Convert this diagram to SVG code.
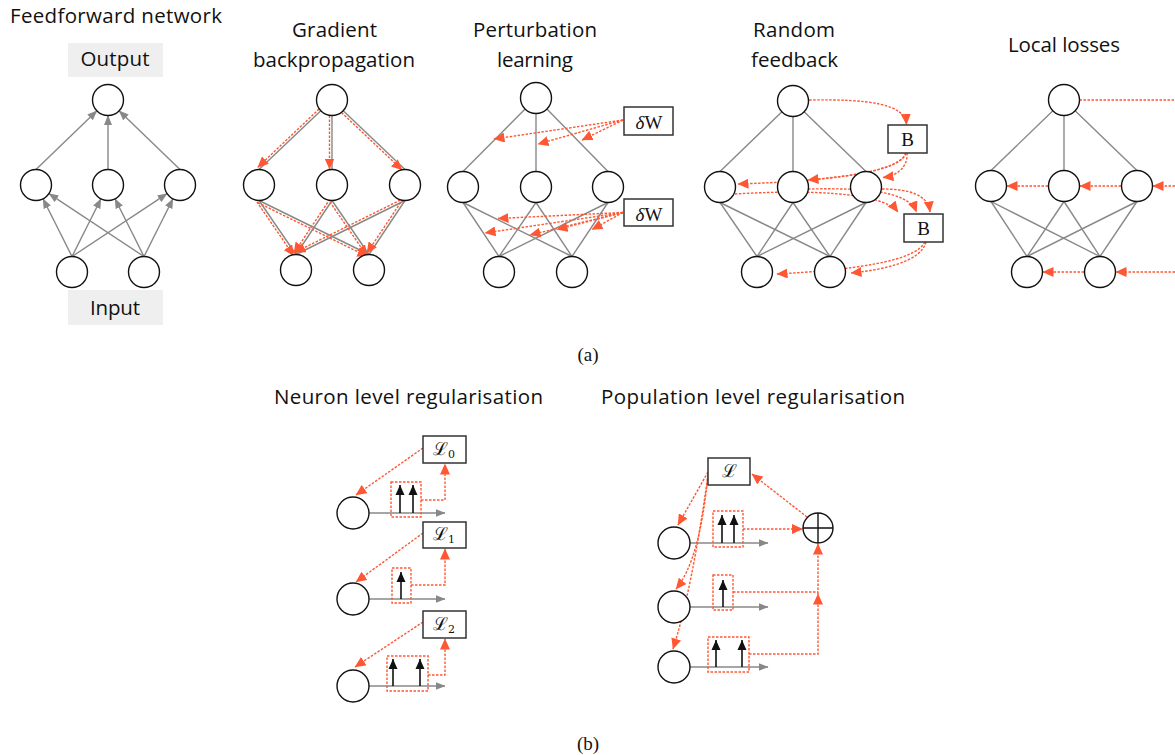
<svg xmlns="http://www.w3.org/2000/svg" width="1175" height="755" viewBox="0 0 1175 755">
<style>
.t{font-family:"Open Sans","Liberation Sans",sans-serif;font-size:20.5px;fill:#111}
.n{fill:#fff;stroke:#111;stroke-width:1.4}
.g{stroke:#888;stroke-width:1.4;fill:none}
.r{stroke:#FF5733;stroke-width:1.4;stroke-dasharray:2.5 1.5;fill:none}
.k{stroke:#111;stroke-width:1.6;fill:none}
.box{fill:#fff;stroke:#333;stroke-width:1.5}
.lab{font-family:"Liberation Serif","DejaVu Serif",serif;font-size:19px;fill:#111}
.cal{font-family:"DejaVu Serif","Liberation Serif",serif;font-size:18px;fill:#111}
.shade{fill:#efefef}
</style>
<defs>
<marker id="ag" markerUnits="userSpaceOnUse" markerWidth="10" markerHeight="8" refX="9.5" refY="4" orient="auto"><path d="M0,0L10,4L0,8z" fill="#888"/></marker>
<marker id="ar" markerUnits="userSpaceOnUse" markerWidth="11" markerHeight="10" refX="10.5" refY="5" orient="auto"><path d="M0,0L11,5L0,10z" fill="#FF5733"/></marker>
<marker id="ab" markerUnits="userSpaceOnUse" markerWidth="10" markerHeight="10" refX="10" refY="5" orient="auto"><path d="M0,0.5L10,5L0,9.5z" fill="#111"/></marker>
</defs>
<rect width="1175" height="755" fill="#fff"/>

<!-- titles -->
<g id="titles">
<text class="t" x="116" y="23" text-anchor="middle" textLength="212">Feedforward network</text>
<text class="t" x="334.5" y="37" text-anchor="middle" textLength="85">Gradient</text>
<text class="t" x="334" y="67" text-anchor="middle" textLength="162">backpropagation</text>
<text class="t" x="535" y="37" text-anchor="middle" textLength="124">Perturbation</text>
<text class="t" x="535" y="67" text-anchor="middle" textLength="76">learning</text>
<text class="t" x="794" y="37" text-anchor="middle" textLength="82">Random</text>
<text class="t" x="794.5" y="67" text-anchor="middle" textLength="87">feedback</text>
<text class="t" x="1064" y="52" text-anchor="middle" textLength="112">Local losses</text>
<text class="lab" x="588" y="361" text-anchor="middle">(a)</text>
<text class="t" x="408.5" y="404" text-anchor="middle" textLength="269">Neuron level regularisation</text>
<text class="t" x="753" y="404" text-anchor="middle" textLength="304">Population level regularisation</text>
<text class="lab" x="588" y="750" text-anchor="middle">(b)</text>
</g>

<g id="ff-output-label"><rect class="shade" x="68" y="43" width="95" height="34"/><text class="t" x="115" y="66" text-anchor="middle" textLength="69">Output</text></g>
<g id="ff-input-label"><rect class="shade" x="68" y="290" width="95" height="35"/><text class="t" x="115" y="315" text-anchor="middle" textLength="50">Input</text></g>

<!-- connectors -->
<g id="connectors">
<!-- feedforward -->
<g marker-end="url(#ag)" class="g">
<line x1="36" y1="169.5" x2="96.9" y2="110.8"/>
<line x1="108" y1="169.5" x2="108" y2="115.5"/>
<line x1="180" y1="169.5" x2="119.1" y2="110.8"/>
<line x1="72" y1="256.5" x2="43" y2="198.8"/>
<line x1="72" y1="256.5" x2="101" y2="198.8"/>
<line x1="72" y1="256.5" x2="167.1" y2="193.6"/>
<line x1="144" y1="256.5" x2="48.9" y2="193.6"/>
<line x1="144" y1="256.5" x2="115" y2="198.8"/>
<line x1="144" y1="256.5" x2="173" y2="198.8"/>
</g>
<!-- gradient backprop -->
<g class="g">
<line x1="259" y1="169.5" x2="320.8" y2="110.7"/>
<line x1="332" y1="169.5" x2="332" y2="115.5"/>
<line x1="405" y1="169.5" x2="343.2" y2="110.7"/>
<line x1="259" y1="200.5" x2="296" y2="254.5"/>
<line x1="259" y1="200.5" x2="369" y2="254.5"/>
<line x1="332" y1="200.5" x2="296" y2="254.5"/>
<line x1="332" y1="200.5" x2="369" y2="254.5"/>
<line x1="405" y1="200.5" x2="296" y2="254.5"/>
<line x1="405" y1="200.5" x2="369" y2="254.5"/>
</g>
<g class="r" marker-end="url(#ar)">
<line x1="319.1" y1="108.9" x2="257.8" y2="167.3"/>
<line x1="329.5" y1="115.5" x2="329.5" y2="169"/>
<line x1="341.5" y1="112.5" x2="402" y2="170"/>
<line x1="256.9" y1="201.9" x2="293.9" y2="255.9"/>
<line x1="257.9" y1="202.7" x2="367.9" y2="256.7"/>
<line x1="329.9" y1="199.1" x2="293.9" y2="253.1"/>
<line x1="329.9" y1="201.9" x2="366.9" y2="255.9"/>
<line x1="403.9" y1="198.3" x2="294.9" y2="252.3"/>
<line x1="402.9" y1="199.1" x2="366.9" y2="253.1"/>
</g>
<!-- perturbation -->
<g class="g">
<line x1="463" y1="171.5" x2="525.1" y2="109"/>
<line x1="536" y1="171.5" x2="536" y2="113.5"/>
<line x1="608" y1="171.5" x2="546.9" y2="109.1"/>
<line x1="463" y1="202.5" x2="499" y2="256.5"/>
<line x1="463" y1="202.5" x2="572" y2="256.5"/>
<line x1="536" y1="202.5" x2="499" y2="256.5"/>
<line x1="536" y1="202.5" x2="572" y2="256.5"/>
<line x1="608" y1="202.5" x2="499" y2="256.5"/>
<line x1="608" y1="202.5" x2="572" y2="256.5"/>
</g>
<g class="r" marker-end="url(#ar)">
<line x1="623" y1="120" x2="494" y2="139"/>
<line x1="623" y1="120" x2="538" y2="144"/>
<line x1="623" y1="120" x2="582" y2="140"/>
<line x1="623" y1="212.5" x2="498" y2="218.5"/>
<line x1="623" y1="212.5" x2="485" y2="233"/>
<line x1="623" y1="212.5" x2="530" y2="235"/>
<line x1="623" y1="212.5" x2="557" y2="229.5"/>
<line x1="623" y1="212.5" x2="592" y2="229.5"/>
</g>
<!-- random feedback -->
<g class="g">
<line x1="720" y1="171.5" x2="781.9" y2="111.8"/>
<line x1="793" y1="171.5" x2="793" y2="116.5"/>
<line x1="866" y1="171.5" x2="804.1" y2="111.8"/>
<line x1="720" y1="202.5" x2="757" y2="256.5"/>
<line x1="720" y1="202.5" x2="830" y2="256.5"/>
<line x1="793" y1="202.5" x2="757" y2="256.5"/>
<line x1="793" y1="202.5" x2="830" y2="256.5"/>
<line x1="866" y1="202.5" x2="757" y2="256.5"/>
<line x1="866" y1="202.5" x2="830" y2="256.5"/>
</g>
<g class="r" marker-end="url(#ar)">
<path d="M809,100 C870,99 905,104 906.5,124.5"/>
<path d="M906,153 C900,176 800,182 738,184"/>
<path d="M906,153 C899,170 852,176 808,180"/>
<path d="M907,153 C908,168 896,176 883,177.5"/>
<path d="M735,194 C800,190 882,191 898,212"/>
<path d="M808,189 C860,188 908,190 916.5,212"/>
<path d="M882,189 C910,189 928,195 930,212"/>
<path d="M925,242 C915,262 850,270 777,274"/>
<path d="M926,242 C921,262 882,270 851,273"/>
</g>
<!-- local losses -->
<g class="g">
<line x1="991" y1="170.5" x2="1052.9" y2="110.8"/>
<line x1="1064" y1="170.5" x2="1064" y2="115.5"/>
<line x1="1137" y1="170.5" x2="1075.1" y2="110.8"/>
<line x1="991" y1="201.5" x2="1027" y2="256.5"/>
<line x1="991" y1="201.5" x2="1100" y2="256.5"/>
<line x1="1064" y1="201.5" x2="1027" y2="256.5"/>
<line x1="1064" y1="201.5" x2="1100" y2="256.5"/>
<line x1="1137" y1="201.5" x2="1027" y2="256.5"/>
<line x1="1137" y1="201.5" x2="1100" y2="256.5"/>
</g>
<line class="r" x1="1079.5" y1="100" x2="1175" y2="100"/>
<g class="r" marker-end="url(#ar)">
<line x1="1175" y1="186" x2="1153" y2="186"/>
<line x1="1121" y1="186" x2="1080" y2="186"/>
<line x1="1048" y1="186" x2="1007" y2="186"/>
<line x1="1175" y1="272" x2="1116" y2="272"/>
<line x1="1084" y1="272" x2="1043" y2="272"/>
</g>

<!-- neuron level -->
<g class="g" marker-end="url(#ag)">
<line x1="369" y1="513" x2="445" y2="513"/>
<line x1="369" y1="599" x2="445" y2="599"/>
<line x1="369" y1="686" x2="445" y2="686"/>
</g>
<g class="k" marker-end="url(#ab)">
<line x1="400" y1="513" x2="400" y2="485"/>
<line x1="413" y1="513" x2="413" y2="485"/>
<line x1="401" y1="599" x2="401" y2="572"/>
<line x1="393" y1="686" x2="393" y2="659"/>
<line x1="420" y1="686" x2="420" y2="659"/>
</g>
<g class="r">
<rect x="391" y="482" width="30" height="35"/>
<rect x="392" y="568" width="19" height="35"/>
<rect x="387" y="656" width="41" height="35"/>
</g>
<g class="r" marker-end="url(#ar)">
<path d="M421,500 L445,500 L445,464"/>
<path d="M423,448 L356,495"/>
<path d="M411,585 L445,585 L445,549"/>
<path d="M423,533 L356,582"/>
<path d="M428,675 L445,675 L445,639"/>
<path d="M423,622 L355,667"/>
</g>

<!-- population level -->
<g class="g" marker-end="url(#ag)">
<line x1="690" y1="543" x2="768" y2="543"/>
<line x1="690" y1="607" x2="768" y2="607"/>
<line x1="690" y1="667" x2="768" y2="667"/>
</g>
<g class="k" marker-end="url(#ab)">
<line x1="722" y1="543" x2="722" y2="515"/>
<line x1="734" y1="543" x2="734" y2="515"/>
<line x1="723" y1="607" x2="723" y2="580"/>
<line x1="716" y1="667" x2="716" y2="640"/>
<line x1="742" y1="667" x2="742" y2="640"/>
</g>
<g class="r">
<rect x="713" y="511" width="30" height="36"/>
<rect x="713" y="575" width="20" height="35"/>
<rect x="708" y="637" width="41" height="35"/>
<path d="M733,592 L818,592"/>
</g>
<g class="r" marker-end="url(#ar)">
<path d="M743,529 L802.5,529"/>
<path d="M749,654 L818,654 L818,594"/>
<path d="M818,594 L818,544"/>
<path d="M807,517 L752,474"/>
<path d="M708,472 L678,525"/>
<path d="M708,474 Q700,560 676,589"/>
<path d="M708,475 Q692,590 673,649"/>
</g>
</g>

<!-- nodes: feedforward -->
<g id="ff-out"><circle class="n" cx="108" cy="100" r="15.5"/></g>
<g id="ff-h1"><circle class="n" cx="36" cy="185" r="15.5"/></g>
<g id="ff-h2"><circle class="n" cx="108" cy="185" r="15.5"/></g>
<g id="ff-h3"><circle class="n" cx="180" cy="185" r="15.5"/></g>
<g id="ff-i1"><circle class="n" cx="72" cy="272" r="15.5"/></g>
<g id="ff-i2"><circle class="n" cx="144" cy="272" r="15.5"/></g>
<!-- gradient -->
<g id="gb-out"><circle class="n" cx="332" cy="100" r="15.5"/></g>
<g id="gb-h1"><circle class="n" cx="259" cy="185" r="15.5"/></g>
<g id="gb-h2"><circle class="n" cx="332" cy="185" r="15.5"/></g>
<g id="gb-h3"><circle class="n" cx="405" cy="185" r="15.5"/></g>
<g id="gb-i1"><circle class="n" cx="296" cy="270" r="15.5"/></g>
<g id="gb-i2"><circle class="n" cx="369" cy="270" r="15.5"/></g>
<!-- perturbation -->
<g id="pl-out"><circle class="n" cx="536" cy="98" r="15.5"/></g>
<g id="pl-h1"><circle class="n" cx="463" cy="187" r="15.5"/></g>
<g id="pl-h2"><circle class="n" cx="536" cy="187" r="15.5"/></g>
<g id="pl-h3"><circle class="n" cx="608" cy="187" r="15.5"/></g>
<g id="pl-i1"><circle class="n" cx="499" cy="272" r="15.5"/></g>
<g id="pl-i2"><circle class="n" cx="572" cy="272" r="15.5"/></g>
<g id="pl-dw1"><rect class="box" x="624" y="107" width="49" height="28"/><text class="lab" x="649" y="129" text-anchor="middle"><tspan font-style="italic">δ</tspan>W</text></g>
<g id="pl-dw2"><rect class="box" x="624" y="199" width="49" height="27"/><text class="lab" x="649" y="221" text-anchor="middle"><tspan font-style="italic">δ</tspan>W</text></g>
<!-- random feedback -->
<g id="rf-out"><circle class="n" cx="793" cy="101" r="15.5"/></g>
<g id="rf-h1"><circle class="n" cx="720" cy="187" r="15.5"/></g>
<g id="rf-h2"><circle class="n" cx="793" cy="187" r="15.5"/></g>
<g id="rf-h3"><circle class="n" cx="866" cy="187" r="15.5"/></g>
<g id="rf-i1"><circle class="n" cx="757" cy="272" r="15.5"/></g>
<g id="rf-i2"><circle class="n" cx="830" cy="272" r="15.5"/></g>
<g id="rf-b1"><rect class="box" x="888" y="125" width="39" height="28"/><text class="lab" x="907.5" y="145.5" text-anchor="middle">B</text></g>
<g id="rf-b2"><rect class="box" x="904" y="214" width="39" height="28"/><text class="lab" x="923.5" y="234.5" text-anchor="middle">B</text></g>
<!-- local losses -->
<g id="ll-out"><circle class="n" cx="1064" cy="100" r="15.5"/></g>
<g id="ll-h1"><circle class="n" cx="991" cy="186" r="15.5"/></g>
<g id="ll-h2"><circle class="n" cx="1064" cy="186" r="15.5"/></g>
<g id="ll-h3"><circle class="n" cx="1137" cy="186" r="15.5"/></g>
<g id="ll-i1"><circle class="n" cx="1027" cy="272" r="15.5"/></g>
<g id="ll-i2"><circle class="n" cx="1100" cy="272" r="15.5"/></g>
<!-- neuron level -->
<g id="nl-n1"><circle class="n" cx="353" cy="513" r="16"/></g>
<g id="nl-n2"><circle class="n" cx="353" cy="599" r="16"/></g>
<g id="nl-n3"><circle class="n" cx="353" cy="686" r="16"/></g>
<g id="nl-l0"><rect class="box" x="423" y="436" width="43" height="27"/><text class="cal" x="444" y="455" text-anchor="middle">ℒ<tspan font-size="11" dy="3">0</tspan></text></g>
<g id="nl-l1"><rect class="box" x="423" y="522" width="43" height="26"/><text class="cal" x="444" y="540" text-anchor="middle">ℒ<tspan font-size="11" dy="3">1</tspan></text></g>
<g id="nl-l2"><rect class="box" x="423" y="611" width="43" height="27"/><text class="cal" x="444" y="630" text-anchor="middle">ℒ<tspan font-size="11" dy="3">2</tspan></text></g>
<!-- population level -->
<g id="pop-n1"><circle class="n" cx="674" cy="543" r="16"/></g>
<g id="pop-n2"><circle class="n" cx="674" cy="607" r="16"/></g>
<g id="pop-n3"><circle class="n" cx="674" cy="667" r="16"/></g>
<g id="pop-l"><rect class="box" x="708" y="458" width="42" height="27"/><text class="cal" x="729" y="477" text-anchor="middle">ℒ</text></g>
<g id="pop-sum"><circle class="n" cx="818" cy="528" r="15"/><path d="M803,528H833M818,513V543" stroke="#111" stroke-width="1.4"/></g>
</svg>
